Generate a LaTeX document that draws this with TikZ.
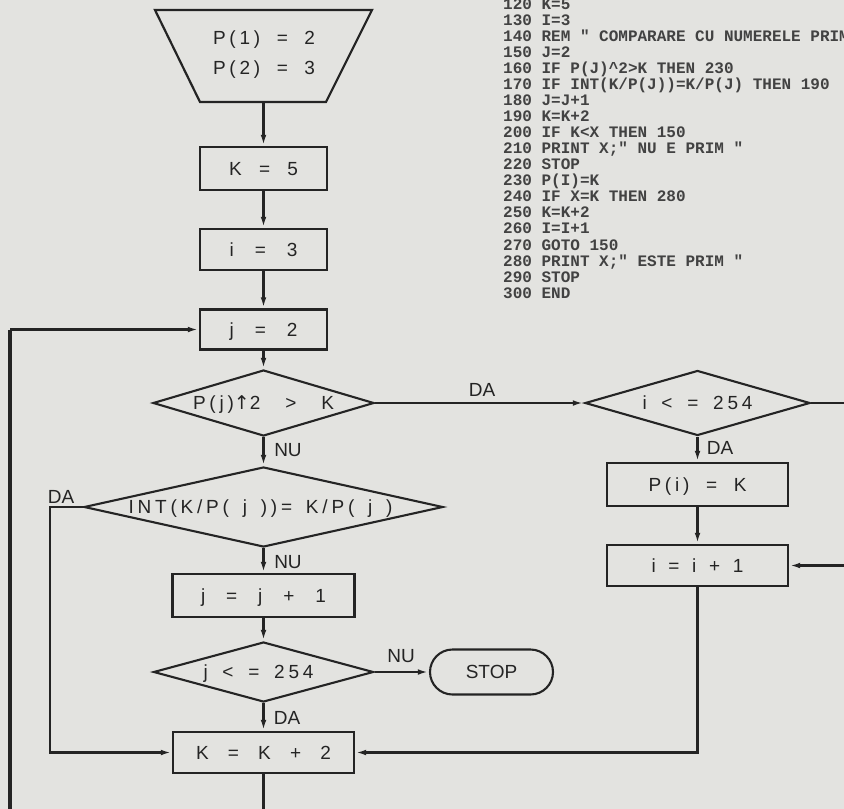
\documentclass[tikz,border=0pt]{standalone}
\usepackage{fontspec}
\setmainfont[LetterSpace=20]{Liberation Sans}
\newfontfamily\plainsans{Liberation Sans}
\newfontfamily\monof{Liberation Mono}
\newfontfamily\symf{DejaVu Sans}
\usetikzlibrary{arrows.meta,shapes.geometric}
\definecolor{bg}{RGB}{227,227,224}
\definecolor{ink}{RGB}{36,36,36}
\definecolor{lstc}{RGB}{66,66,66}
\newcommand{\fw}[2]{\makebox[#1pt][s]{#2}}
\begin{document}
\begin{tikzpicture}[x=1pt,y=-1pt,
  every node/.style={font=\fontsize{19}{22}\selectfont, text=ink, inner sep=0pt, text height=13.6pt, text depth=0pt},
  box/.style={draw=ink, line width=2.1pt, rectangle},
  dia/.style={draw=ink, line width=2.1pt, shape=diamond, inner sep=0pt},
  conn/.style={draw=ink, line width=2.2pt},
  arr/.style={conn, -{Latex[length=11pt,width=5.5pt]}},
  lbl/.style={font=\fontsize{19}{22}\selectfont\plainsans},
  lst/.style={font=\fontsize{16}{18}\selectfont\monof\bfseries, text=lstc, anchor=west, text height=10.5pt, text depth=0pt}
]
\useasboundingbox (0,0) rectangle (844,809);
\fill[bg] (0,0) rectangle (844,809);

% ---------- left column ----------
\draw[conn, line join=miter] (155,10) -- (372,10) -- (326,102) -- (200,102) -- cycle;
\node (p1) at (264,38) {\fw{102}{P(1) = 2}};
\node (p2) at (264,68) {\fw{102}{P(2) = 3}};
\coordinate (tb) at (263.5,102);

\node[box, minimum width=127pt, minimum height=43pt] (k5) at (263.5,168.5) {\fw{69}{K = 5}};
\node[box, minimum width=127pt, minimum height=41pt] (i3) at (263.5,249.5) {\fw{68}{i = 3}};
\node[box, minimum width=127pt, minimum height=40pt] (j2) at (263.5,329.5) {\fw{68}{j = 2}};
\node[dia, minimum width=221pt, minimum height=66pt] (d1) at (263.5,403) {\makebox[0pt]{\fw{141}{P(j){\symf ↑}2 > K}}};
\node[dia, minimum width=359pt, minimum height=80pt] (d2) at (263.5,507) {\makebox[0pt]{\fw{264}{INT(K/P( j ))= K/P( j )}\hspace{6pt}}};
\node[box, minimum width=182pt, minimum height=43pt] (jj) at (263.5,595.5) {\fw{125}{j = j + 1}};
\node[dia, minimum width=220pt, minimum height=60pt] (d4) at (263.5,672) {\makebox[0pt]{\fw{110}{j < = 254}\hspace{10pt}}};
\node[box, minimum width=181pt, minimum height=41pt] (k2) at (263.5,752.5) {\fw{135}{K = K + 2}};
\node[box, minimum width=123pt, minimum height=45pt, rounded corners=22.5pt] (stop) at (491.5,672) {\plainsans STOP};

% ---------- right column ----------
\node[dia, minimum width=225pt, minimum height=65pt] (d3) at (697.5,403) {\makebox[0pt]{\fw{110}{i < = 254}}};
\node[box, minimum width=181pt, minimum height=43pt] (pi) at (697.5,484.5) {\fw{98}{P(i) = K}\hspace{13pt}};
\node[box, minimum width=181pt, minimum height=41pt] (ii) at (697.5,565.5) {\fw{92}{i = i + 1}\hspace{13pt}};

% ---------- edge coordinates ----------
\coordinate (kb) at (263.5,809);
\coordinate (lb) at (10,809);
\coordinate (lt) at (10,329.5);
\coordinate (re) at (844,403);
\coordinate (ri) at (844,565.5);

% ---------- connectors ----------
\draw[arr] (tb) -- (k5.north);
\draw[arr] (k5.south) -- (i3.north);
\draw[arr] (i3.south) -- (j2.north);
\draw[arr] (j2.south) -- (d1.north);
\draw[arr] (d1.south) -- (d2.north);
\draw[arr] (d2.south) -- (jj.north);
\draw[arr] (jj.south) -- (d4.north);
\draw[arr] (d4.south) -- (k2.north);
\draw[conn] (k2.south) -- (kb);
\draw[arr] (d4.east) -- (stop.west);
\draw[arr] (d1.east) -- (d3.west);
\draw[arr] (d2.west) -- ++(-33,0) |- (k2.west);
\draw[draw=ink, line width=3.8pt] (lb) -- (lt);
\draw[arr] (lt) -- (j2.west);
\draw[conn] (d3.east) -- (re);
\draw[arr] (d3.south) -- (pi.north);
\draw[arr] (pi.south) -- (ii.north);
\draw[arr] (ri) -- (ii.east);
\draw[arr] (ii.south) |- (k2.east);

% ---------- labels ----------
\node[lbl] (la1) at (482,390) {DA};
\node[lbl] (la2) at (288,450) {NU};
\node[lbl] (la3) at (61,497) {DA};
\node[lbl] (la4) at (288,562) {NU};
\node[lbl] (la5) at (401,656) {NU};
\node[lbl] (la6) at (287,718) {DA};
\node[lbl] (la7) at (720,448) {DA};

% ---------- BASIC listing ----------
\begin{scope}
\clip (0,0) rectangle (844,809);
\foreach \t [count=\n from 0] in {
  120 K=5,
  130 I=3,
  140 REM " COMPARARE CU NUMERELE PRIM,
  150 J=2,
  160 IF P(J)\textasciicircum2>K THEN 230,
  170 IF INT(K/P(J))=K/P(J) THEN 190,
  180 J=J+1,
  190 K=K+2,
  200 IF K<X THEN 150,
  210 PRINT X;" NU E PRIM ",
  220 STOP,
  230 P(I)=K,
  240 IF X=K THEN 280,
  250 K=K+2,
  260 I=I+1,
  270 GOTO 150,
  280 PRINT X;" ESTE PRIM ",
  290 STOP,
  300 END}
  \node[lst] (L\n) at (503, 3.9+16.06*\n) {\t};
\end{scope}
\end{tikzpicture}
\end{document}
